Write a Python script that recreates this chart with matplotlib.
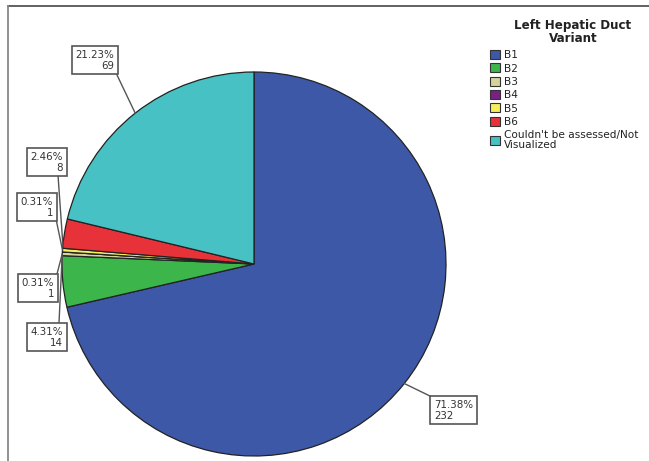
import matplotlib
matplotlib.use("Agg")
import matplotlib.pyplot as plt
from matplotlib.patches import Patch
import numpy as np

# data
categories = ["B1", "B2", "B3", "B4", "B5", "B6", "Couldn't be assessed/Not\nVisualized"]
counts = [232, 14, 1, 0, 1, 8, 69]
colors = ["#3e58a8", "#3cb64a", "#d6d29c", "#7b1f84", "#f7ee5c", "#e8323a", "#47c1c4"]

W, H = 649, 461
fig = plt.figure(figsize=(W / 100, H / 100), dpi=100)
ax = fig.add_axes([0, 0, 1, 1])
ax.set_xlim(0, W)
ax.set_ylim(0, H)
ax.set_aspect("equal")
ax.axis("off")

# frame (top and left edges only visible)
ax.plot([8, W + 5], [H - 6.5, H - 6.5], color="#555555", lw=1.3)
ax.plot([8, 8], [H - 6.5, -5], color="#888888", lw=1.3)

cx, cy, r = 254, H - 264, 192
ax.pie(counts, colors=colors, startangle=90, counterclock=False,
       center=(cx, cy), radius=r, frame=True,
       wedgeprops=dict(edgecolor="#222222", linewidth=0.9))
ax.set_xlim(0, W)
ax.set_ylim(0, H)
ax.axis("off")

total = sum(counts)
cum = np.cumsum([0] + counts)

# label layout: (category index, fraction in wedge for leader, box corner x, y, ha)
label_layout = [
    (0, 0.5, 434, H - 400, "left"),
    (1, 1.0, 63, H - 327, "right"),
    (2, 0.5, 54, H - 278, "right"),
    (4, 0.5, 53, H - 197, "right"),
    (5, 0.1, 63, H - 152, "right"),
    (6, 0.5, 114, H - 50, "right"),
]
line_ends = {0: (432, H - 397), 1: (59, H - 323), 2: (57, H - 274),
             4: (56, H - 219), 5: (58, H - 175), 6: (117, H - 75)}

for idx, frac, bx, by, ha in label_layout:
    pos = (cum[idx] + frac * counts[idx]) / total
    ang = np.deg2rad(90 - 360 * pos)
    px, py = cx + r * np.cos(ang), cy + r * np.sin(ang)
    lx, ly = line_ends[idx]
    ax.plot([px, lx], [py, ly], color="#555555", lw=1.0, zorder=3)
    txt = f"{100 * counts[idx] / total:.2f}%\n{counts[idx]}"
    ax.text(bx, by, txt, ha=ha, va="top", fontsize=7.4, linespacing=1.1,
            multialignment=ha, color="#333333", zorder=4,
            bbox=dict(boxstyle="square,pad=0.35", fc="white", ec="#555555", lw=1.2))

# legend
ax.text(573, H - 32, "Left Hepatic Duct\nVariant", ha="center", va="center",
        fontsize=8.6, fontweight="bold", linespacing=1.0, color="#222222")
handles = [Patch(facecolor=c, edgecolor="#333333", linewidth=0.8) for c in colors]
leg = ax.legend(handles, categories, loc="upper left", bbox_to_anchor=(490 / W, 1 - 50 / H),
                frameon=False, fontsize=7.6, handlelength=0.95, handleheight=0.95,
                handletextpad=0.35, labelspacing=0.3, borderaxespad=0, borderpad=0)
for t in leg.get_texts():
    t.set_color("#222222")
    t.set_linespacing(0.95)

fig.savefig("out.png", dpi=100)
